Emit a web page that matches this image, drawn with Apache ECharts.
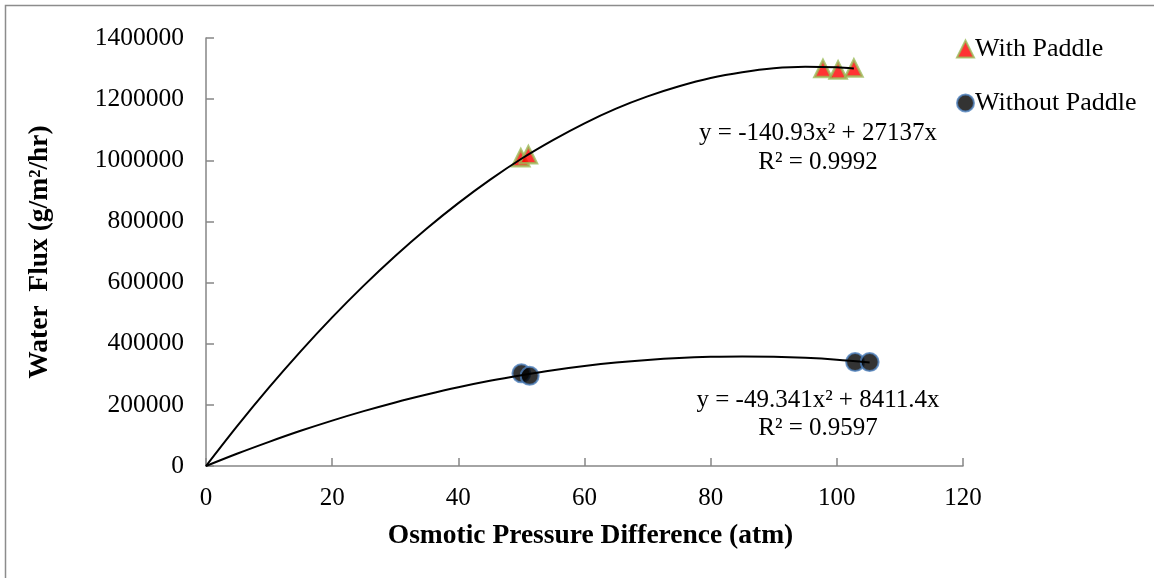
<!DOCTYPE html>
<html>
<head>
<meta charset="utf-8">
<script src="https://cdn.jsdelivr.net/npm/echarts@6/dist/echarts.min.js"></script>
<style>
  html, body { margin: 0; padding: 0; background: #fff; }
  #main { width: 1154px; height: 578px; }
</style>
</head>
<body>
<div id="main"></div>
<script>
// measured points
var withPaddle = [[49.9, 1008000], [51.1, 1018000], [97.8, 1300000], [100.2, 1295000], [102.7, 1302000]];
var withoutPaddle = [[50.0, 303000], [51.3, 295000], [102.9, 340000], [105.2, 340000]];

// trendlines
var trendWith = [[0, 0], [5, 132000], [10, 257000], [15, 375000], [20, 486000], [25, 590000],
  [30, 687000], [35, 777000], [40, 860000], [45, 936000], [50, 1005000], [55, 1066000],
  [60, 1121000], [65, 1169000], [70, 1209000], [75, 1242000], [80, 1269000], [85, 1288000],
  [90, 1301000], [95, 1306000], [100, 1304000], [102.7, 1300500]];
var trendWithout = [[0, 0], [5, 40800], [10, 79000], [15, 115100], [20, 148500], [25, 179400],
  [30, 208000], [35, 233800], [40, 257500], [45, 278600], [50, 297000], [55, 313400],
  [60, 327000], [65, 338300], [70, 347000], [75, 353300], [80, 357000], [85, 358500],
  [90, 357400], [95, 353800], [100, 347700], [105.2, 338500]];

var xTicks = [0, 20, 40, 60, 80, 100, 120];
var yTicks = [0, 200000, 400000, 600000, 800000, 1000000, 1200000, 1400000];

var font = 'Liberation Serif';
var axisGrey = '#868686';

var myChart = echarts.init(document.getElementById('main'));

myChart.setOption({
  animation: false,
  textStyle: { fontFamily: font },
  grid: { left: 206, right: 191, top: 38, bottom: 112 },
  legend: {
    orient: 'vertical',
    left: 951,
    top: 31,
    itemGap: 28,
    itemWidth: 17,
    itemHeight: 17,
    data: ['With Paddle', 'Without Paddle'],
    textStyle: { fontFamily: font, fontSize: 26, color: '#000', padding: [0, 0, 0, -4] }
  },
  xAxis: {
    type: 'value',
    min: xTicks[0],
    max: xTicks[xTicks.length - 1],
    interval: 20,
    name: 'Osmotic Pressure Difference (atm)',
    nameLocation: 'middle',
    nameGap: 56,
    nameTextStyle: { fontFamily: font, fontSize: 27.5, fontWeight: 'bold', color: '#000', padding: [0, 0, 0, 12] },
    axisLine: { lineStyle: { color: axisGrey, width: 1.5 } },
    axisTick: { inside: true, length: 8, lineStyle: { color: axisGrey, width: 1.5 } },
    axisLabel: { fontFamily: font, fontSize: 25, color: '#000', margin: 20 },
    splitLine: { show: false }
  },
  yAxis: {
    type: 'value',
    min: yTicks[0],
    max: yTicks[yTicks.length - 1],
    interval: 200000,
    name: 'Water  Flux (g/m²/hr)',
    nameLocation: 'middle',
    nameGap: 152,
    nameTextStyle: { fontFamily: font, fontSize: 27.5, fontWeight: 'bold', color: '#000' },
    axisLine: { show: true, lineStyle: { color: axisGrey, width: 1.5 } },
    axisTick: { show: true, inside: true, length: 8, lineStyle: { color: axisGrey, width: 1.5 } },
    axisLabel: { fontFamily: font, fontSize: 25.5, color: '#000', margin: 22, formatter: function (v) { return String(v); } },
    splitLine: { show: false }
  },
  graphic: [
    {
      type: 'rect',
      silent: true,
      shape: { x: 5.5, y: 5.5, width: 1300, height: 700 },
      style: { fill: 'none', stroke: '#8c8c8c', lineWidth: 1.5 }
    },
    {
      type: 'text', x: 818, y: 133,
      style: { text: 'y = -140.93x² + 27137x', fontFamily: font, fontSize: 25, fill: '#000', align: 'center', verticalAlign: 'middle' }
    },
    {
      type: 'text', x: 818, y: 162,
      style: { text: 'R² = 0.9992', fontFamily: font, fontSize: 25, fill: '#000', align: 'center', verticalAlign: 'middle' }
    },
    {
      type: 'text', x: 818, y: 400,
      style: { text: 'y = -49.341x² + 8411.4x', fontFamily: font, fontSize: 25, fill: '#000', align: 'center', verticalAlign: 'middle' }
    },
    {
      type: 'text', x: 818, y: 428,
      style: { text: 'R² = 0.9597', fontFamily: font, fontSize: 25, fill: '#000', align: 'center', verticalAlign: 'middle' }
    }
  ],
  series: [
    {
      name: 'With Paddle',
      type: 'scatter',
      symbol: 'triangle',
      symbolSize: 17,
      itemStyle: { color: '#ff0000', borderColor: '#9bbb59', borderWidth: 2.5 },
      data: withPaddle,
      z: 2
    },
    {
      name: 'Without Paddle',
      type: 'scatter',
      symbol: 'circle',
      symbolSize: 18,
      itemStyle: { color: '#000', borderColor: '#4f81bd', borderWidth: 2 },
      data: withoutPaddle,
      z: 2
    },
    {
      name: 'trend1',
      type: 'line',
      smooth: 0.3,
      showSymbol: false,
      symbol: 'none',
      lineStyle: { color: '#000', width: 2 },
      data: trendWith,
      z: 3,
      silent: true
    },
    {
      name: 'trend2',
      type: 'line',
      smooth: 0.3,
      showSymbol: false,
      symbol: 'none',
      lineStyle: { color: '#000', width: 2 },
      data: trendWithout,
      z: 3,
      silent: true
    }
  ]
});
</script>
</body>
</html>
